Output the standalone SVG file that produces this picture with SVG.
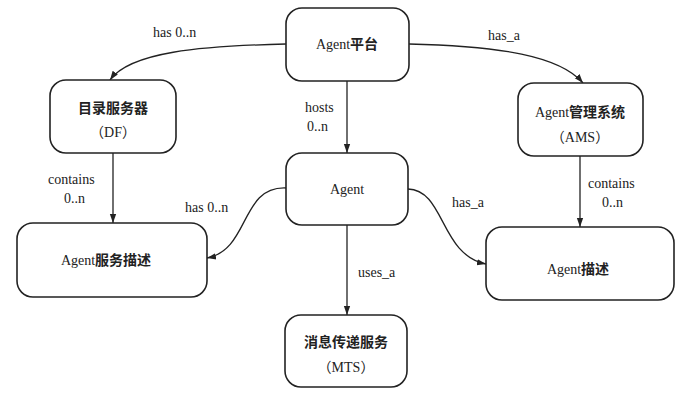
<svg xmlns="http://www.w3.org/2000/svg" width="688" height="403" viewBox="0 0 688 403">
<style>
.box{fill:#fff;stroke:#222;stroke-width:1.6}
.t{font-family:"Liberation Serif","Noto Sans CJK SC",serif;font-size:14px;fill:#222;text-anchor:middle}
.l{font-family:"Liberation Serif","Noto Sans CJK SC",serif;font-size:14px;fill:#222}
.k{font-weight:bold}
.c{fill:none;stroke:#222;stroke-width:1.3;marker-end:url(#a)}
</style>
<defs>
<marker id="a" viewBox="0 0 10 10" refX="10" refY="5" markerWidth="9" markerHeight="9" orient="auto" markerUnits="userSpaceOnUse">
<path d="M0,1.5 L10,5 L0,8.5 z" fill="#222"/>
</marker>
</defs>
<rect width="688" height="403" fill="#fff"/>
<g id="connectors">
<path class="c" d="M286,44 C200,46 130,52 110,80"/>
<path class="c" d="M409,44 C500,46 560,56 583,83"/>
<path class="c" d="M347,81 L347,153"/>
<path class="c" d="M113,153 L113,223"/>
<path class="c" d="M580,156 L580,227"/>
<path class="c" d="M286,188 C240,186 250,250 207,258"/>
<path class="c" d="M408,189 C445,190 440,255 486,264"/>
<path class="c" d="M347,225 L347,315"/>
<text class="l" x="153" y="37">has 0..n</text>
<text class="l" x="488" y="40">has_a</text>
<text class="l" x="305" y="112">hosts</text>
<text class="l" x="307" y="131">0..n</text>
<text class="l" x="48" y="184">contains</text>
<text class="l" x="64" y="203">0..n</text>
<text class="l" x="588" y="188">contains</text>
<text class="l" x="602" y="207">0..n</text>
<text class="l" x="185" y="212">has 0..n</text>
<text class="l" x="452" y="207">has_a</text>
<text class="l" x="358" y="277">uses_a</text>
</g>
<g id="platform">
<rect class="box" x="286" y="8" width="123" height="73" rx="16"/>
<text class="t" x="347" y="49">Agent<tspan class="k">平台</tspan></text>
</g>
<g id="df">
<rect class="box" x="50" y="80" width="126" height="73" rx="16"/>
<text class="t" x="113" y="113"><tspan class="k">目录服务器</tspan></text>
<text class="t" x="113" y="137">（DF）</text>
</g>
<g id="ams">
<rect class="box" x="518" y="83" width="125" height="73" rx="16"/>
<text class="t" x="580" y="117">Agent<tspan class="k">管理系统</tspan></text>
<text class="t" x="580" y="142">（AMS）</text>
</g>
<g id="agent">
<rect class="box" x="286" y="153" width="122" height="72" rx="16"/>
<text class="t" x="347" y="194">Agent</text>
</g>
<g id="asd">
<rect class="box" x="17" y="223" width="190" height="74" rx="16"/>
<text class="t" x="106" y="265">Agent<tspan class="k">服务描述</tspan></text>
</g>
<g id="ad">
<rect class="box" x="486" y="227" width="188" height="73" rx="16"/>
<text class="t" x="578" y="274">Agent<tspan class="k">描述</tspan></text>
</g>
<g id="mts">
<rect class="box" x="285" y="315" width="122" height="72" rx="16"/>
<text class="t" x="346" y="347"><tspan class="k">消息传递服务</tspan></text>
<text class="t" x="346" y="372">（MTS）</text>
</g>
</svg>
